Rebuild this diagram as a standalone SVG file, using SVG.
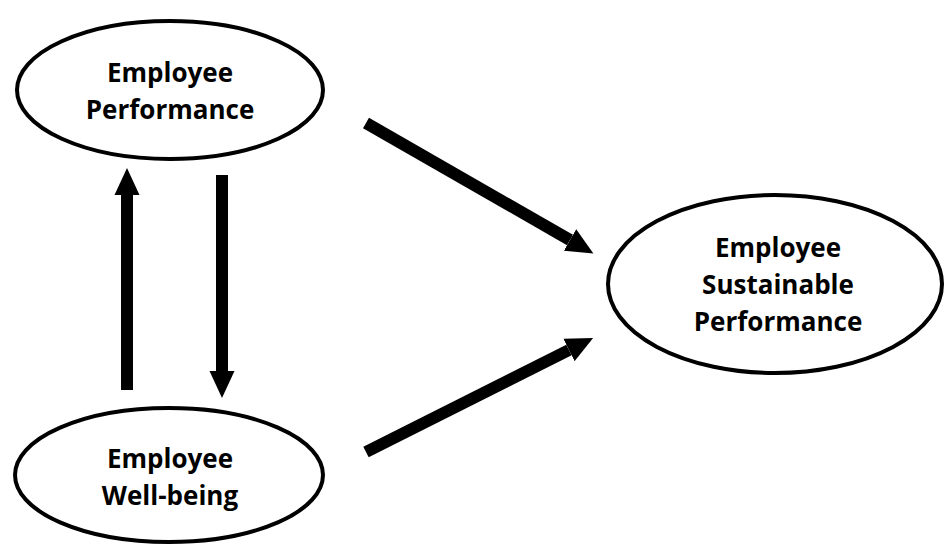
<svg xmlns="http://www.w3.org/2000/svg" width="944" height="545" viewBox="0 0 944 545">
<style>
.node ellipse{fill:#fff;stroke:#000;stroke-width:4}
.node text{font-family:"Open Sans","Noto Sans",sans-serif;font-weight:bold;font-size:26px;text-anchor:middle;fill:#000}
.edge{stroke:#000;stroke-width:12;fill:none}
</style>
<defs>
<marker id="ah" markerUnits="userSpaceOnUse" markerWidth="28" markerHeight="26" refX="0" refY="12.5" orient="auto" viewBox="0 0 28 25">
<path d="M0,0 L27,12.5 L0,25 Z" fill="#000"/>
</marker>
</defs>
<rect width="944" height="545" fill="#fff"/>
<g id="connectors">
<line class="edge" x1="127" y1="390" x2="127" y2="195" marker-end="url(#ah)"/>
<line class="edge" x1="222" y1="175" x2="222" y2="371" marker-end="url(#ah)"/>
<line class="edge" x1="366" y1="123" x2="570" y2="240" marker-end="url(#ah)"/>
<line class="edge" x1="366" y1="452" x2="569" y2="350" marker-end="url(#ah)"/>
</g>
<g id="node-performance" class="node">
<ellipse cx="170" cy="90" rx="153" ry="69"/>
<text x="170" y="82">Employee</text>
<text x="170" y="119">Performance</text>
</g>
<g id="node-wellbeing" class="node">
<ellipse cx="169" cy="475" rx="154" ry="67"/>
<text x="170" y="468">Employee</text>
<text x="170" y="505">Well-being</text>
</g>
<g id="node-sustainable" class="node">
<ellipse cx="775" cy="284" rx="167" ry="89"/>
<text x="778" y="257">Employee</text>
<text x="778" y="294">Sustainable</text>
<text x="778" y="331">Performance</text>
</g>
</svg>
